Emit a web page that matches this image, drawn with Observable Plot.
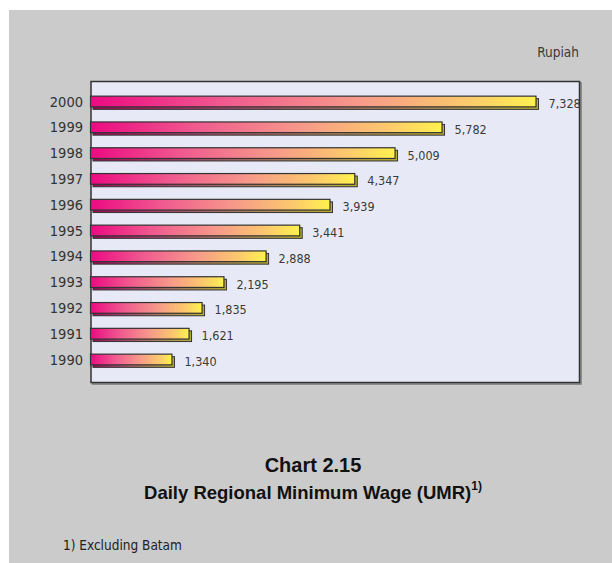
<!DOCTYPE html>
<html>
<head>
<meta charset="utf-8">
<script src="https://cdn.jsdelivr.net/npm/d3@7"></script>
<script src="https://cdn.jsdelivr.net/npm/@observablehq/plot@0.6"></script>
<style>
  html, body { margin: 0; padding: 0; background: #ffffff; }
  #page { position: relative; width: 612px; height: 563px; overflow: hidden; }
  #bg { position: absolute; left: 9px; top: 10px; width: 603px; height: 553px; background: #cbcbcb; }
  #chart { position: absolute; left: 0; top: 0; }
  .narrow { font-family: "Liberation Sans Narrow", "DejaVu Sans Condensed", "Liberation Sans", sans-serif; }
  #unit { position: absolute; right: 33px; top: 44px; font-size: 13.5px; color: #3a3a3a; }
  #title { position: absolute; left: 9px; width: 608px; top: 454px; text-align: center; font-family: "Liberation Sans", Arial, sans-serif; font-weight: bold; font-size: 20px; color: #111; }
  #subtitle { position: absolute; left: 9px; width: 608px; top: 481px; text-align: center; font-family: "Liberation Sans", Arial, sans-serif; font-weight: bold; font-size: 18.5px; color: #111; }
  #subtitle sup { font-size: 12px; position: relative; top: -2px; }
  #note { position: absolute; left: 63px; top: 537px; font-size: 13.5px; color: #222; }
</style>
</head>
<body>
<div id="page">
  <div id="bg"></div>
  <div id="chart"></div>
  <div id="unit" class="narrow">Rupiah</div>
  <div id="title">Chart 2.15</div>
  <div id="subtitle">Daily Regional Minimum Wage (UMR)<sup>1)</sup></div>
  <div id="note" class="narrow">1) Excluding Batam</div>
</div>
<script>
const years = ["2000", "1999", "1998", "1997", "1996", "1995", "1994", "1993", "1992", "1991", "1990"];
const wages = [7328, 5782, 5009, 4347, 3939, 3441, 2888, 2195, 1835, 1621, 1340];

const data = years.map((y, i) => ({year: y, value: wages[i]}));
const fmt = d3.format(",");

const chart = Plot.plot({
  width: 612,
  height: 400,
  marginTop: 81,
  marginBottom: 18,
  marginLeft: 90.5,
  marginRight: 33,
  style: {
    background: "transparent",
    fontFamily: "'Liberation Sans Narrow', 'DejaVu Sans Condensed', 'Liberation Sans', sans-serif",
    color: "#333"
  },
  x: {domain: [0, 8035], axis: null},
  y: {domain: years, range: [96.15, 364.85], paddingInner: 0.585, paddingOuter: 0, round: false, axis: null},
  marks: [
    Plot.frame({stroke: "#777", strokeWidth: 1.5, dx: 1.5, dy: 1.5}),
    Plot.frame({fill: "#e7eaf6", stroke: "#333", strokeWidth: 1.5}),
    Plot.barX(data, {x: "value", y: "year", fill: "url(#gradShadow)", stroke: "#333", strokeWidth: 1, dx: 2.5, dy: 2.5}),
    Plot.barX(data, {x: "value", y: "year", fill: "url(#gradBar)", stroke: "#333", strokeWidth: 1.2}),
    Plot.text(data, {x: "value", y: "year", text: d => fmt(d.value), dx: 12, dy: 2, textAnchor: "start", fontSize: 12.5, fill: "#3a3a3a"}),
    Plot.axisY({tickSize: 0, tickPadding: 8, fontSize: 14.5, fill: "#333", label: null})
  ]
});

const svg = d3.select(chart.tagName === "svg" ? chart : chart.querySelector("svg"));
const defs = svg.insert("defs", ":first-child");
const g1 = defs.append("linearGradient").attr("id", "gradBar").attr("x1", 0).attr("x2", 1).attr("y1", 0).attr("y2", 0);
[[0, "#ec0a82"], [0.3, "#f05a8f"], [0.6, "#f6998a"], [0.85, "#fcca6c"], [1, "#fff24e"]]
  .forEach(([o, c]) => g1.append("stop").attr("offset", o).attr("stop-color", c));
const g2 = defs.append("linearGradient").attr("id", "gradShadow").attr("x1", 0).attr("x2", 1).attr("y1", 0).attr("y2", 0);
[[0, "#9a0a58"], [0.3, "#a04468"], [0.6, "#a8765e"], [0.85, "#b09a48"], [1, "#b8ae30"]]
  .forEach(([o, c]) => g2.append("stop").attr("offset", o).attr("stop-color", c));

document.getElementById("chart").appendChild(chart);
</script>
</body>
</html>
